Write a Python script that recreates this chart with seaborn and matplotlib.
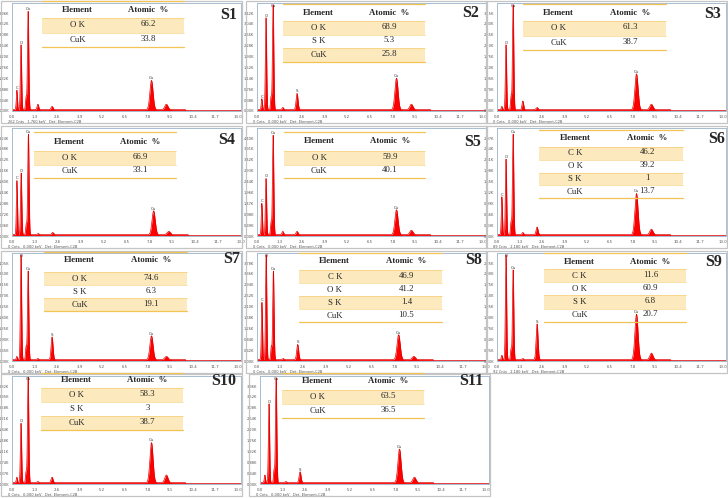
import numpy as np
import pandas as pd
import matplotlib
matplotlib.use("Agg")
import matplotlib.pyplot as plt
import seaborn as sns
from matplotlib.patches import Rectangle

# ---------------- data ----------------
panel_names = ["S1", "S2", "S3", "S4", "S5", "S6", "S7", "S8", "S9", "S10", "S11"]

# EDS lines (keV) and their labels
line_names = ["C", "O", "CuLl", "CuLa", "Al", "S", "CuKa", "CuKb"]
line_energy = [0.28, 0.52, 0.81, 0.93, 1.49, 2.31, 8.04, 8.90]
line_label = ["C", "O", "", "Cu", "", "S", "Cu", "Cu"]

# peak heights (fraction of the plotting height)
h_S1 = [0.18, 0.60, 0.12, 0.91, 0.05, 0.03, 0.27, 0.05]
h_S2 = [0.10, 0.85, 0.12, 0.97, 0.02, 0.15, 0.29, 0.05]
h_S3 = [0.03, 0.60, 0.13, 0.97, 0.08, 0.02, 0.33, 0.05]
h_S4 = [0.50, 0.57, 0.10, 0.93, 0.01, 0.02, 0.22, 0.03]
h_S5 = [0.29, 0.52, 0.12, 0.92, 0.03, 0.03, 0.23, 0.04]
h_S6 = [0.35, 0.70, 0.12, 0.93, 0.02, 0.07, 0.38, 0.05]
h_S7 = [0.03, 0.97, 0.12, 0.82, 0.01, 0.21, 0.22, 0.03]
h_S8 = [0.53, 0.97, 0.12, 0.82, 0.01, 0.14, 0.23, 0.03]
h_S9 = [0.04, 0.97, 0.10, 0.83, 0.01, 0.33, 0.42, 0.06]
h_S10 = [0.05, 0.55, 0.10, 0.98, 0.01, 0.05, 0.37, 0.07]
h_S11 = [0.07, 0.73, 0.12, 0.97, 0.01, 0.10, 0.31, 0.05]
heights = [h_S1, h_S2, h_S3, h_S4, h_S5, h_S6, h_S7, h_S8, h_S9, h_S10, h_S11]

# y-axis full-scale (kilo-counts) of each spectrum
ymax_k = [3.96, 3.42, 3.15, 3.24, 4.40, 2.97, 4.05, 3.78, 2.25, 3.32, 3.96]

x_ticks = [0.0, 1.3, 2.6, 3.9, 5.2, 6.5, 7.8, 9.1, 10.4, 11.7, 13.0]

# composition tables
t_S1 = (["O K", "CuK"], [66.2, 33.8])
t_S2 = (["O K", "S K", "CuK"], [68.9, 5.3, 25.8])
t_S3 = (["O K", "CuK"], [61.3, 38.7])
t_S4 = (["O K", "CuK"], [66.9, 33.1])
t_S5 = (["O K", "CuK"], [59.9, 40.1])
t_S6 = (["C K", "O K", "S K", "CuK"], [46.2, 39.2, 1, 13.7])
t_S7 = (["O K", "S K", "CuK"], [74.6, 6.3, 19.1])
t_S8 = (["C K", "O K", "S K", "CuK"], [46.9, 41.2, 1.4, 10.5])
t_S9 = (["C K", "O K", "S K", "CuK"], [11.6, 60.9, 6.8, 20.7])
t_S10 = (["O K", "S K", "CuK"], [58.3, 3, 38.7])
t_S11 = (["O K", "CuK"], [63.5, 36.5])
tables = [t_S1, t_S2, t_S3, t_S4, t_S5, t_S6, t_S7, t_S8, t_S9, t_S10, t_S11]

footers = ["262 Cnts   1.760 keV   Det: Element-C2B",
           "0 Cnts   0.000 keV   Det: Element-C2B",
           "0 Cnts   0.000 keV   Det: Element-C2B",
           "0 Cnts   0.000 keV   Det: Element-C2B",
           "0 Cnts   0.000 keV   Det: Element-C2B",
           "89 Cnts   2.180 keV   Det: Element-C2B",
           "0 Cnts   0.000 keV   Det: Element-C2B",
           "0 Cnts   0.000 keV   Det: Element-C2B",
           "92 Cnts   2.180 keV   Det: Element-C2B",
           "0 Cnts   0.000 keV   Det: Element-C2B",
           "0 Cnts   0.000 keV   Det: Element-C2B"]

# ---------------- layout (pixels) ----------------
W, H = 728, 498
panel_xy = [(0, 0), (245, 0), (485, 0),
            (0, 125), (245, 125), (485, 125),
            (0, 250), (245, 250), (485, 250),
            (0, 373), (248, 373)]
panel_xmax = [13.2, 13.2, 13.2, 12.3, 13.2, 13.2, 13.2, 12.8, 13.2, 13.2, 13.2]
# (left, right, top line, header y, first row top, row height)
table_geom = [(42, 184, 1, 10, 18, 14.5), (38, 180, 4, 13, 21, 13.5),
              (38, 181, 4, 13, 21, 14.5), (34, 176, 7, 17, 26, 13.5),
              (39, 180, 7, 16, 26, 13.5), (54, 198, 5, 13, 22, 12.8),
              (44, 187, 2, 10, 22, 13.0), (54, 197, 3, 11, 20, 13.0),
              (59, 201, 3, 12, 19, 13.2), (41, 183, 0, 7, 15, 14.0),
              (34, 176, 0, 8, 17, 14.0)]
label_pos = [(229, 15), (226, 13), (228, 14), (227, 15), (228, 17), (232, 14),
             (232, 9), (229, 10), (229, 12), (224, 8), (223, 8)]
peak_sigma = [0.032, 0.036, 0.032, 0.038, 0.045, 0.055, 0.09, 0.09]

sns.set_theme(style="white")
plt.rcParams["font.family"] = ["DejaVu Sans"]
serif = ["Liberation Serif", "DejaVu Serif"]

fig = plt.figure(figsize=(W / 100, H / 100), dpi=100)
fig.patch.set_facecolor("white")


def ax_px(x, y, w, h, **kw):
    return fig.add_axes([x / W, 1 - (y + h) / H, w / W, h / H], **kw)


ov = ax_px(0, 0, W, H, zorder=20)
ov.set_xlim(0, W)
ov.set_ylim(H, 0)
ov.axis("off")
ov.patch.set_alpha(0)

grid = np.linspace(0, 13.5, 2700)
shade = "#FCE7B6"
gold = "#F3C455"

for i, name in enumerate(panel_names):
    x0, y0 = panel_xy[i]
    # panel frame
    ov.add_patch(Rectangle((x0 + 1, y0 + 1), 241, 122, fill=False,
                           ec="#C4C4C4", lw=0.9))
    ax = ax_px(x0 + 12, y0 + 3, 229, 108, zorder=5)
    spec = np.where(grid < 10.0, 0.013, 0.006)
    for e, hgt, s in zip(line_energy, heights[i], peak_sigma):
        spec = spec + hgt * np.exp(-0.5 * ((grid - e) / s) ** 2)
    df = pd.DataFrame({"keV": grid, "counts": spec})
    ax.fill_between(df["keV"], df["counts"], color="#FF0000", lw=0)
    sns.lineplot(data=df, x="keV", y="counts", ax=ax, color="#E00000",
                 lw=0.5, legend=False)
    ax.set_xlim(0, panel_xmax[i])
    ax.set_ylim(0, 1)
    ax.set_xlabel("")
    ax.set_ylabel("")
    ax.set_xticks(x_ticks)
    ax.set_xticklabels([f"{t:.1f}" for t in x_ticks], fontsize=2.8,
                       color="#555555")
    yt = np.linspace(0, 0.907, 10)
    ax.set_yticks(yt)
    ax.set_yticklabels([f"{ymax_k[i] * k / 9:.2f}K" for k in range(10)],
                       fontsize=2.6, color="#555555")
    ax.tick_params(axis="both", length=1.2, width=0.4, pad=1.5,
                   color="#888888", direction="out")
    ax.tick_params(axis="y", pad=0.8)
    for sp in ax.spines.values():
        sp.set_color("#A8BCD0")
        sp.set_linewidth(0.7)
    # peak labels
    for e, hgt, lab in zip(line_energy, heights[i], line_label):
        if lab and hgt > 0.08:
            ax.text(e, min(hgt + 0.015, 0.95), lab, fontsize=2.8,
                    color="#333333", ha="center", va="bottom")
    # footer
    ov.text(x0 + 8, y0 + 121.5, footers[i], fontsize=2.6, color="#555555",
            va="center", ha="left")

    # table
    left, right, top, hy, r0, rh = table_geom[i]
    els, vals = tables[i]
    L, R = x0 + left, x0 + right
    wdt = R - L
    ov.plot([L, R], [y0 + top, y0 + top], color=gold, lw=0.9)
    ov.text(L + 0.25 * wdt, y0 + hy, "Element", fontsize=6.3,
            fontweight="bold", family=serif, ha="center", va="center")
    ov.text(L + 0.75 * wdt, y0 + hy, "Atomic  %", fontsize=6.3,
            fontweight="bold", family=serif, ha="center", va="center")
    for r, (el, v) in enumerate(zip(els, vals)):
        ry = y0 + r0 + r * rh
        if r % 2 == 0:
            ov.add_patch(Rectangle((L, ry), wdt, rh, fc=shade, ec="none",
                                   alpha=0.9))
            ov.plot([L, R], [ry, ry], color=gold, lw=0.5, alpha=0.7)
            ov.plot([L, R], [ry + rh, ry + rh], color=gold, lw=0.5, alpha=0.7)
        ov.text(L + 0.25 * wdt, ry + rh / 2, el, fontsize=6.3, family=serif,
                ha="center", va="center")
        ov.text(L + 0.75 * wdt, ry + rh / 2 - 1, f"{v:g}", fontsize=6.3,
                family=serif, ha="center", va="center")
    yb = y0 + r0 + len(els) * rh
    ov.plot([L, R], [yb, yb], color=gold, lw=0.9)

    # sample label
    lx, ly = label_pos[i]
    ov.text(x0 + lx, y0 + ly, name, fontsize=11.5, fontweight="bold",
            family=serif, ha="center", va="center")

fig.savefig("out.png", dpi=100, facecolor="white")
